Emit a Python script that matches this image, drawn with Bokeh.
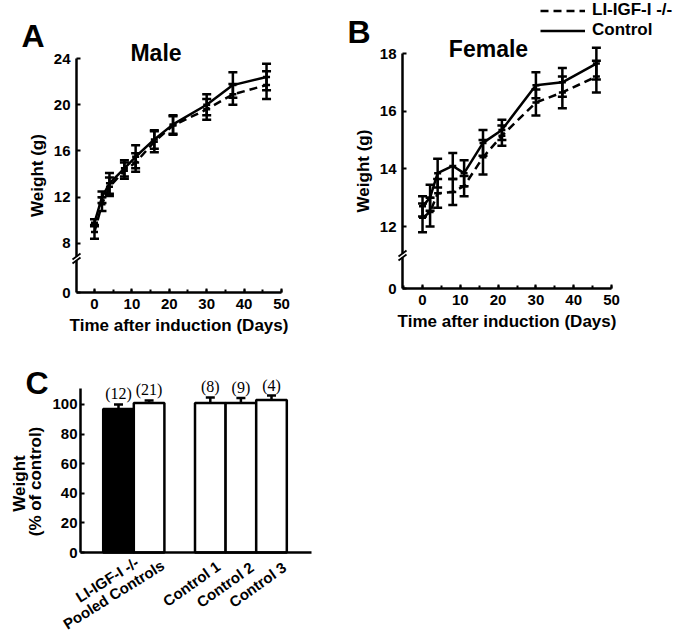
import math
from bokeh.plotting import figure
from bokeh.models import (ColumnDataSource, Whisker, TeeHead, Label, LabelSet, Legend,
                          LegendItem, FixedTicker, SingleIntervalTicker, CustomJSTickFormatter)
from bokeh.core.properties import value
from bokeh.layouts import column, row
from bokeh.embed import file_html
from bokeh.resources import INLINE

# ---------------- data ----------------
days = [0, 2, 4, 8, 11, 16, 21, 30, 37, 46]

male_control = [9.8, 12.0, 13.2, 14.5, 15.5, 17.0, 18.3, 20.0, 21.7, 22.4]
male_control_se = [0.3, 0.5, 0.9, 0.7, 1.0, 0.8, 0.8, 0.9, 1.1, 1.15]
male_ko = [9.0, 11.4, 12.9, 14.3, 15.0, 16.8, 18.2, 19.6, 20.9, 21.7]
male_ko_se = [0.6, 0.6, 0.8, 0.7, 0.8, 0.9, 0.8, 0.9, 0.9, 1.2]

female_control = [12.7, 13.0, 13.85, 14.1, 13.85, 14.9, 15.35, 16.9, 17.0, 17.65]
female_control_se = [0.35, 0.45, 0.5, 0.45, 0.45, 0.45, 0.35, 0.45, 0.5, 0.55]
female_ko = [12.3, 12.5, 13.15, 13.2, 13.4, 14.4, 15.15, 16.3, 16.65, 17.2]
female_ko_se = [0.5, 0.5, 0.5, 0.45, 0.35, 0.6, 0.35, 0.45, 0.55, 0.55]

bar_labels = ["LI-IGF-I -/-", "Pooled Controls", "Control 1", "Control 2", "Control 3"]
bar_group = [0, 0, 1, 1, 1]
bar_values = [97, 101, 101, 101, 103]
bar_err = [3.0, 1.7, 3.8, 3.4, 3.0]
bar_n = ["(12)", "(21)", "(8)", "(9)", "(4)"]
bar_fill = ["black", "white", "white", "white", "white"]

legend_labels = ["LI-IGF-I -/-", "Control"]

FONT = "Liberation Sans"
SERIF = "Liberation Serif"


class Geo:
    """Maps page pixels <-> data for a figure whose frame fills the whole figure."""
    def __init__(self, W, H, box, xa, ya, top=0):
        l, r, t, b = box
        self.W, self.H, self.box, self.xa, self.ya, self.top = W, H, box, xa, ya, top
        self.kx = (xa[1] - xa[0]) / (r - l)
        self.ky = (ya[1] - ya[0]) / (b - t)
        self.x0 = xa[0] - l * self.kx
        self.y0 = ya[1] + t * self.ky

    def x(self, px):
        return self.x0 + px * self.kx

    def y(self, py):
        return self.y0 - (py - self.top) * self.ky

    def xr(self):
        return (self.x(0), self.x(self.W))

    def yr(self):
        return (self.y(self.top + self.H), self.y(self.top))


def make_fig(g):
    p = figure(width=g.W, height=g.H, x_range=g.xr(), y_range=g.yr(),
               output_backend="svg", toolbar_location=None, title=None,
               min_border_left=0, min_border_right=0, min_border_top=0, min_border_bottom=0)
    p.xgrid.visible = False
    p.ygrid.visible = False
    p.outline_line_color = None
    p.background_fill_color = "white"
    p.border_fill_color = "white"
    xa, ya = g.xa, g.ya
    p.xaxis[0].fixed_location = ya[0]
    p.xaxis[0].bounds = xa
    p.yaxis[0].fixed_location = xa[0]
    p.yaxis[0].bounds = ya
    for ax in (p.xaxis[0], p.yaxis[0]):
        ax.axis_line_width = 2.5
        ax.axis_line_color = "black"
        ax.major_tick_line_width = 2
        ax.major_tick_line_color = "black"
        ax.major_tick_in = 4
        ax.major_tick_out = 0
        ax.minor_tick_line_width = 2
        ax.minor_tick_line_color = "black"
        ax.minor_tick_in = 3
        ax.minor_tick_out = 0
        ax.major_label_text_font = FONT
        ax.major_label_text_font_style = "bold"
        ax.major_label_text_font_size = "15px"
        ax.major_label_text_color = "black"
        ax.axis_label_text_font = FONT
        ax.axis_label_text_font_style = "bold"
        ax.axis_label_text_font_size = "17px"
        ax.axis_label_text_color = "black"
        ax.major_label_standoff = 6
        ax.axis_label_standoff = 4
    return p


def text(p, x, y, s, size, align="left", font=FONT, style="bold", angle=0.0):
    p.add_layout(Label(x=x, y=y, text=s, text_font=font, text_font_style=style,
                       text_font_size=size, text_color="black", text_align=align,
                       text_baseline="middle", angle=angle))


def axis_break(p, g, py):
    lx = g.box[0]
    p.quad(left=[g.x(lx - 3)], right=[g.x(lx + 3)], bottom=[g.y(py + 2)], top=[g.y(py - 2)],
           fill_color="white", line_color=None, level="overlay")
    p.segment(x0=[g.x(lx - 4)] * 2, x1=[g.x(lx + 4)] * 2,
              y0=[g.y(py + 1), g.y(py + 5)], y1=[g.y(py - 5), g.y(py - 1)],
              line_color="black", line_width=1.8, level="overlay")


def growth_panel(g, yticks, ctl, ctl_se, ko, ko_se, break_py):
    p = make_fig(g)
    zero_pos = g.ya[0]
    p.xaxis.ticker = SingleIntervalTicker(interval=10, num_minor_ticks=2)
    p.yaxis.ticker = FixedTicker(ticks=[zero_pos] + yticks)
    p.yaxis.formatter = CustomJSTickFormatter(
        args=dict(z=zero_pos), code="return Math.abs(tick - z) < 1e-6 ? '0' : tick.toFixed(0);")
    p.xaxis.axis_label = "Time after induction (Days)"
    p.yaxis.axis_label = "Weight (g)"
    src = ColumnDataSource(dict(
        x=days, ctl=ctl, ko=ko,
        ctl_lo=[v - e for v, e in zip(ctl, ctl_se)], ctl_hi=[v + e for v, e in zip(ctl, ctl_se)],
        ko_lo=[v - e for v, e in zip(ko, ko_se)], ko_hi=[v + e for v, e in zip(ko, ko_se)],
    ))
    ko_line = p.line("x", "ko", source=src, line_width=2.5, line_color="black", line_dash="8 5")
    ctl_line = p.line("x", "ctl", source=src, line_width=2.5, line_color="black")
    for lo, hi in (("ctl_lo", "ctl_hi"), ("ko_lo", "ko_hi")):
        p.add_layout(Whisker(source=src, base="x", lower=lo, upper=hi, line_width=2.5,
                             line_color="black",
                             upper_head=TeeHead(size=9, line_width=2.5, line_color="black"),
                             lower_head=TeeHead(size=9, line_width=2.5, line_color="black")))
    p.scatter("x", "ctl", source=src, marker="dash", size=7, line_width=2.5, line_color="black")
    p.scatter("x", "ko", source=src, marker="dash", size=7, line_width=2.5, line_color="black")
    axis_break(p, g, break_py)
    return p, ko_line, ctl_line


# ---------------- panel A (male) ----------------
gA = Geo(348, 340, (76, 281, 58, 292), (-4.81, 50.0), (3.76, 24.0))
pA, _, _ = growth_panel(gA, [8, 12, 16, 20, 24], male_control, male_control_se,
                        male_ko, male_ko_se, 258)
text(pA, gA.x(21), gA.y(35), "A", "32px")
text(pA, gA.x(155.5), gA.y(52), "Male", "23px", align="center")

# ---------------- panel B (female) ----------------
gB = Geo(335, 340, (54, 263, 53, 288), (-5.3, 50.0), (9.85, 18.0))
pB, ko_line, ctl_line = growth_panel(gB, [12, 14, 16, 18], female_control, female_control_se,
                                     female_ko, female_ko_se, 255)
text(pB, gB.x(-1), gB.y(31), "B", "32px")
text(pB, gB.x(140), gB.y(48), "Female", "23px", align="center")
leg = Legend(items=[LegendItem(label=legend_labels[0], renderers=[ko_line]),
                    LegendItem(label=legend_labels[1], renderers=[ctl_line])],
             location=(192, 300), glyph_width=45, glyph_height=17, label_height=17,
             label_standoff=7, spacing=0, padding=0, margin=0,
             border_line_color=None, background_fill_alpha=0,
             label_text_font=FONT, label_text_font_style="bold",
             label_text_font_size="17px", label_text_color="black")
pB.add_layout(leg)

# ---------------- panel C (bars) ----------------
gC = Geo(683, 298, (80, 311, 48, 212), (-0.242, 7.307), (0.0, 110.8), top=340)
pC = make_fig(gC)
xpos = [i + 1 + g for i, g in enumerate(bar_group)]
csrc = ColumnDataSource(dict(x=xpos, top=bar_values, fill=bar_fill,
                             hi=[v + e for v, e in zip(bar_values, bar_err)], n=bar_n))
pC.vbar(x="x", top="top", width=1.0, bottom=0, source=csrc, fill_color="fill",
        line_color="black", line_width=2.5)
pC.add_layout(Whisker(source=csrc, base="x", lower="top", upper="hi", line_width=2.5,
                      line_color="black", lower_head=None,
                      upper_head=TeeHead(size=9, line_width=2.5, line_color="black")))
pC.add_layout(LabelSet(source=csrc, x="x", y="hi", text="n", text_font=value(SERIF),
                       text_font_style=value("normal"), text_font_size=value("16px"),
                       text_color="black", text_align="center",
                       text_baseline="bottom", y_offset=2))
pC.yaxis.ticker = SingleIntervalTicker(interval=20, num_minor_ticks=0)
pC.yaxis.major_label_standoff = 3
pC.xaxis.ticker = FixedTicker(ticks=[])
pC.xaxis.minor_tick_line_color = None
# y-axis title, two rotated lines
text(pC, gC.x(18.5), gC.y(483), "Weight", "17px", align="center", angle=math.pi / 2)
text(pC, gC.x(35), gC.y(481), "(% of control)", "17px", align="center", angle=math.pi / 2)
# rotated category labels (top-right corner of each label anchored under its bar)
label_dx_px = [14, 9, 3, 6, 8]
label_top_px = [553, 556, 557, 558, 558]
label_angle = [0.56, 0.56, 0.62, 0.62, 0.62]
lab_src = ColumnDataSource(dict(
    x=[x + d * gC.kx for x, d in zip(xpos, label_dx_px)],
    y=[gC.y(py) for py in label_top_px],
    a=label_angle,
    t=bar_labels))
pC.add_layout(LabelSet(source=lab_src, x="x", y="y", text="t", angle="a",
                       text_font=value(FONT), text_font_style=value("bold"),
                       text_font_size=value("15px"), text_color="black",
                       text_align="right", text_baseline="top"))
text(pC, gC.x(25), gC.y(382.5), "C", "32px")

layout = column(row(pA, pB), pC)
open("out.html", "w").write(file_html(layout, INLINE))
